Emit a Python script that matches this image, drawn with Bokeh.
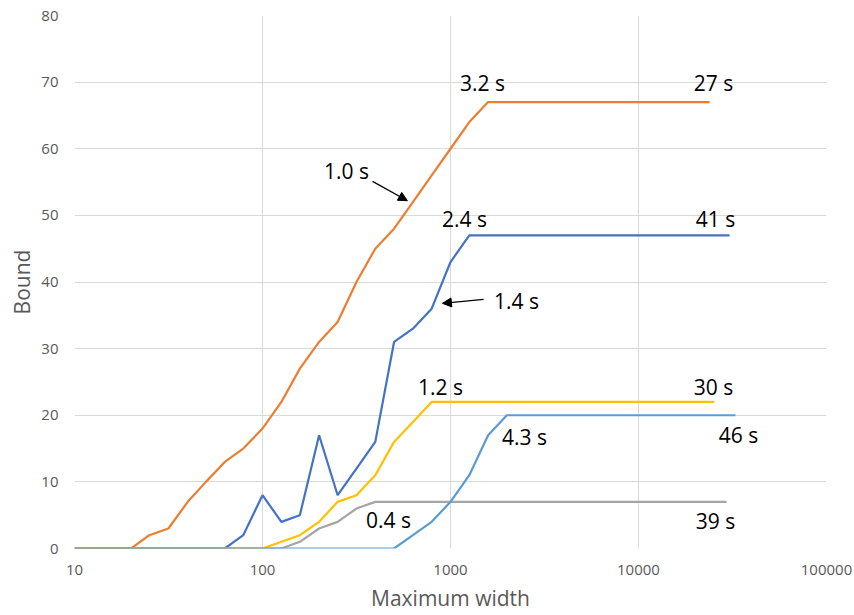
from bokeh.plotting import figure
from bokeh.models import (Range1d, FixedTicker, NumeralTickFormatter, Arrow, NormalHead,
                          ColumnDataSource)
from bokeh.core.properties import value
from bokeh.embed import file_html
from bokeh.resources import INLINE

# ---- data ----
widths = [10, 12.6, 15.8, 20, 25, 31.6, 40, 50, 63, 79, 100, 126, 158, 200, 251,
          316, 398, 501, 631, 794, 1000, 1259, 1585, 1995]

bound_blue = [0, 0, 0, 0, 0, 0, 0, 0, 0, 2, 8, 4, 5, 17, 8, 12, 16, 31, 33, 36, 43, 47]
blue_end = 30500
bound_orange = [0, 0, 0, 0, 2, 3, 7, 10, 13, 15, 18, 22, 27, 31, 34, 40, 45, 48, 52, 56, 60, 64, 67]
orange_end = 23900
bound_gray = [0, 0, 0, 0, 0, 0, 0, 0, 0, 0, 0, 0, 1, 3, 4, 6, 7]
gray_end = 29400
bound_yellow = [0, 0, 0, 0, 0, 0, 0, 0, 0, 0, 0, 1, 2, 4, 7, 8, 11, 16, 19, 22]
yellow_end = 25300
bound_lightblue = [0, 0, 0, 0, 0, 0, 0, 0, 0, 0, 0, 0, 0, 0, 0, 0, 0, 0, 2, 4, 7, 11, 17, 20]
lightblue_end = 32800

x_ticks = [10, 100, 1000, 10000, 100000]
y_ticks = [0, 10, 20, 30, 40, 50, 60, 70, 80]

label_texts = ["3.2 s", "27 s", "1.0 s", "2.4 s", "41 s", "1.4 s", "1.2 s", "30 s",
               "4.3 s", "46 s", "0.4 s", "39 s"]
label_x = [1479, 25060, 280, 1186, 25700, 2244, 885, 25060, 2476, 34000, 468, 25700]
label_y = [69.8, 69.8, 56.6, 49.5, 49.5, 37.2, 24.3, 24.3, 16.7, 17.0, 4.35, 4.2]

arrow_x0 = [385, 1500]
arrow_y0 = [55.1, 37.4]
arrow_x1 = [590, 906]
arrow_y1 = [52.2, 36.8]

# ---- figure ----
p = figure(width=854, height=615, x_axis_type="log", output_backend="svg",
           toolbar_location=None,
           x_range=Range1d(10, 100000), y_range=Range1d(0, 80),
           min_border_left=74, min_border_right=28, min_border_top=15, min_border_bottom=67)
p.outline_line_color = None
p.background_fill_color = "white"
p.border_fill_color = "white"

series = [
    (bound_blue, blue_end, "#4472C4"),
    (bound_orange, orange_end, "#ED7D31"),
    (bound_gray, gray_end, "#A5A5A5"),
    (bound_yellow, yellow_end, "#FFC000"),
    (bound_lightblue, lightblue_end, "#5B9BD5"),
]
for vals, end, col in series:
    xs = widths[:len(vals)] + [end]
    ys = vals + [vals[-1]]
    p.line(xs, ys, line_color=col, line_width=2.2)

src = ColumnDataSource(dict(x=label_x, y=label_y, t=label_texts))
p.text(x="x", y="y", text="t", source=src, text_font=value("Open Sans"),
       text_font_size="21px", text_align="center", text_baseline="middle",
       text_color="black")

for xa, ya, xb, yb in zip(arrow_x0, arrow_y0, arrow_x1, arrow_y1):
    p.add_layout(Arrow(end=NormalHead(size=9, fill_color="black", line_color="black"),
                       x_start=xa, y_start=ya, x_end=xb, y_end=yb,
                       line_color="black", line_width=1.3))

# axes
p.xaxis.ticker = FixedTicker(ticks=x_ticks, minor_ticks=[])
p.xaxis.formatter = NumeralTickFormatter(format="0")
p.yaxis.ticker = FixedTicker(ticks=y_ticks, minor_ticks=[])
for ax in (p.xaxis[0], p.yaxis[0]):
    ax.major_tick_line_color = None
    ax.minor_tick_line_color = None
    ax.major_tick_out = 0
    ax.major_tick_in = 0
    ax.major_label_text_font = "Open Sans"
    ax.major_label_text_font_size = "15px"
    ax.major_label_text_color = "#595959"
    ax.axis_label_text_font = "Open Sans"
    ax.axis_label_text_font_size = "21px"
    ax.axis_label_text_font_style = "normal"
    ax.axis_label_text_color = "#595959"
p.xaxis.axis_line_color = None
p.yaxis.axis_line_color = None
p.xaxis.axis_label = "Maximum width"
p.yaxis.axis_label = "Bound"
p.xaxis.major_label_standoff = 16
p.xaxis.axis_label_standoff = 6
p.yaxis.major_label_standoff = 16
p.yaxis.axis_label_standoff = 2

p.xgrid.grid_line_color = "#d9d9d9"
p.ygrid.grid_line_color = "#d9d9d9"
p.xgrid.ticker = FixedTicker(ticks=x_ticks)
p.ygrid.ticker = FixedTicker(ticks=y_ticks)

open("out.html", "w").write(file_html(p, INLINE))
